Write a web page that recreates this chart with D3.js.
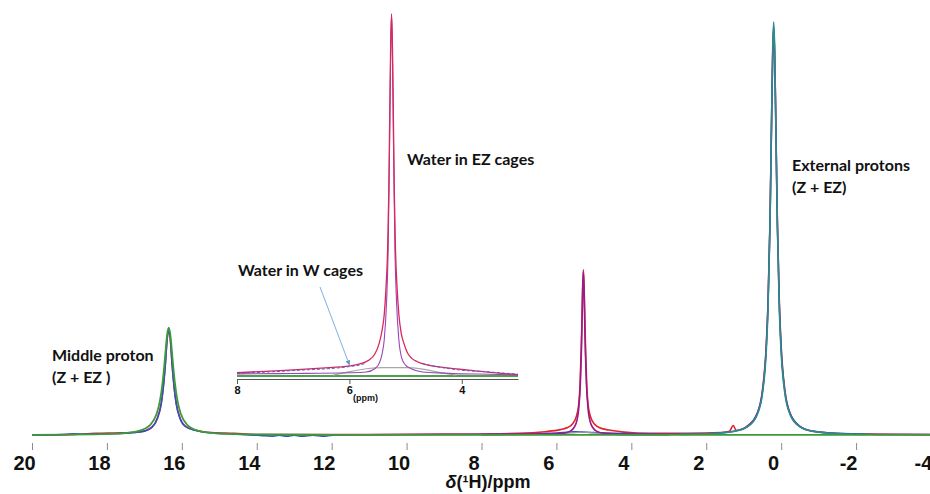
<!DOCTYPE html>
<html>
<head>
<meta charset="utf-8">
<script src="https://cdn.jsdelivr.net/npm/d3@7"></script>
<style>
  body { margin: 0; background: #fff; }
  svg { display: block; }
  .lbl { font-family: Lato, "Open Sans", sans-serif; font-weight: bold; font-size: 16px; fill: #111; }
</style>
</head>
<body>
<svg id="nmr"></svg>
<script>
// main spectrum, [ppm, intensity] with the external-proton peak = 100
const redSpec = [[20,0],[19,0.1],[18.3,0.4],[17.8,0.5],[17.3,0.6],[17,1],[16.8,1.9],[16.65,4.2],[16.55,7.8],[16.5,11.2],[16.44,17.2],[16.39,23.4],[16.35,25.4],[16.31,23.4],[16.26,17.2],[16.2,11.2],[16.15,7.8],[16.05,4.2],[15.9,2.1],[15.6,1.1],[15.2,0.6],[14.6,0.4],[14,0.1],[11,0.1],[9,0.2],[7,0.4],[6.3,0.8],[5.9,1.3],[5.7,1.8],[5.58,2.6],[5.48,4.2],[5.41,7],[5.37,12],[5.34,20],[5.32,27],[5.3,35.5],[5.28,40],[5.26,35.5],[5.24,27],[5.22,20],[5.19,12],[5.15,7],[5.08,4.2],[4.98,2.6],[4.86,1.8],[4.6,1.2],[4.2,0.7],[3.5,0.4],[2.5,0.4],[1.6,0.6],[1.38,0.9],[1.28,2.3],[1.2,1.1],[1.0,1.6],[0.9,2.2],[0.65,5],[0.5,10.8],[0.4,21.5],[0.35,32.5],[0.3,51],[0.275,65],[0.25,79.5],[0.225,92],[0.2,98.5],[0.175,92],[0.15,79.5],[0.125,65],[0.1,51],[0.05,32.5],[0,21.5],[-0.1,10.8],[-0.25,5],[-0.5,2.1],[-0.8,1.0],[-1.3,0.5],[-2.3,0.2],[-4,0.1]];
const blueSpec = [[20,0],[19.2,0.1],[18.9,0.3],[18.6,0.2],[18,0.3],[17.4,0.5],[17,0.9],[16.8,1.8],[16.65,4],[16.55,7.5],[16.5,11],[16.44,17],[16.39,23.5],[16.35,25.6],[16.31,23.5],[16.26,17],[16.2,11],[16.15,7.5],[16.05,4],[15.9,2],[15.6,1],[15.2,0.5],[14.5,0.2],[13.9,-0.1],[13.6,-0.3],[13.4,-0.05],[13.2,-0.3],[13,-0.05],[12.8,-0.3],[12.5,-0.05],[12.2,-0.3],[11.9,0],[9,0.1],[7,0.2],[6,0.5],[5.5,0.8],[5.0,0.6],[3,0.2],[2,0.3],[1.2,1.0],[0.9,2.1],[0.65,5],[0.5,10.5],[0.4,21],[0.35,32],[0.3,51],[0.275,65],[0.25,80],[0.225,93],[0.2,99],[0.175,93],[0.15,80],[0.125,65],[0.1,51],[0.05,32],[0,21],[-0.1,10.5],[-0.25,5],[-0.5,2.1],[-0.8,1.0],[-1.3,0.5],[-2.3,0.2],[-3,0.1],[-4,0.1]];
const purpleSpec = [[8,0.1],[6.5,0.2],[5.88,0.33],[5.63,0.95],[5.48,2.7],[5.4,6.8],[5.36,12.7],[5.335,19.75],[5.32,25.8],[5.3,34.9],[5.28,39.5],[5.26,34.9],[5.24,25.8],[5.225,19.75],[5.2,12.7],[5.16,6.8],[5.08,2.7],[4.93,0.95],[4.68,0.33],[4,0.1],[3,0.05]];
const tealSpec = [[2.7,0.16],[1.7,0.44],[1.2,1.0],[0.9,2],[0.65,4.7],[0.5,10],[0.4,20],[0.35,30.8],[0.3,50],[0.275,64],[0.25,80],[0.225,94],[0.2,100],[0.175,94],[0.15,80],[0.125,64],[0.1,50],[0.05,30.8],[0,20],[-0.1,10],[-0.25,4.7],[-0.5,2],[-0.8,1.0],[-1.3,0.44],[-2.3,0.16]];
const graySpec = [[6,0],[5.6,0.5],[5.3,0.7],[5,0.5],[4.6,0]];
const greenSpec = [[20,0.05],[18.35,0.17],[17.55,0.46],[17.15,1.0],[16.85,2.4],[16.67,5.2],[16.59,8],[16.51,13],[16.47,16.6],[16.43,20.8],[16.39,24.5],[16.35,26],[16.31,24.5],[16.27,20.8],[16.23,16.6],[16.19,13],[16.11,8],[16.03,5.2],[15.85,2.4],[15.55,1.0],[15.15,0.46],[14.35,0.17],[12,0.05],[-4,0.05]];
const mainTicks = [20, 18, 16, 14, 12, 10, 8, 6, 4, 2, 0, -2, -4];

// inset: zoom on the water region, peak = 100
const insetRed = [[8.0,0.9],[7.5,1.3],[7.0,1.7],[6.5,2.2],[6.0,2.8],[5.8,3.4],[5.65,4.4],[5.55,6],[5.47,9],[5.42,12.5],[5.38,17],[5.35,24],[5.32,35],[5.3,50],[5.28,75],[5.265,92],[5.25,100],[5.235,92],[5.22,75],[5.2,50],[5.18,35],[5.15,24],[5.12,17],[5.08,12],[5.03,9],[4.97,6.5],[4.9,5],[4.8,4],[4.6,3],[4.3,2.3],[4.0,1.8],[3.5,1.0],[3.0,0.4]];
const insetPurple = [[8.0,0.6],[7.0,0.7],[6.0,0.9],[5.7,1.1],[5.55,2],[5.47,3.5],[5.42,6],[5.38,10],[5.34,20],[5.31,35],[5.28,70],[5.265,90],[5.25,100],[5.235,90],[5.22,70],[5.19,35],[5.16,20],[5.12,10],[5.07,5],[5.0,3],[4.9,2],[4.7,1.1],[4.3,0.8],[4.0,0.6],[3.5,0.5],[3.0,0.3]];
const insetBlue = [[8.0,0.7],[7.0,1.5],[6.0,2.6],[5.8,3.1],[5.7,3.6]];
const insetBlue2 = [[4.7,3.4],[4.3,2.2],[4.0,1.6],[3.5,1.1],[3.0,0.5]];
const insetGray = [[6.3,0.2],[6.0,1.2],[5.7,2.0],[5.4,2.3],[5.0,2.3],[4.7,1.9],[4.4,1.0],[4.1,0.2]];
const insetGreen = [[8,0],[3,0]];
const insetTicks = [8, 6, 4];

const width = 930, height = 494;

const svg = d3.select('#nmr')
  .attr('width', width)
  .attr('height', height)
  .attr('viewBox', [0, 0, width, height]);

svg.append('rect').attr('width', width).attr('height', height).attr('fill', '#fff');

const x = d3.scaleLinear().domain([20, -4]).range([32, 931]);
const y = d3.scaleLinear().domain([0, 100]).range([435, 22]);

const line = d3.line()
  .x(d => x(d[0]))
  .y(d => y(d[1]))
  .curve(d3.curveMonotoneX);

// reversed domain -> sort by ppm descending so x increases
const draw = (g, data, gen, color, w, dash) => {
  g.append('path')
    .datum(data.slice().sort((a, b) => b[0] - a[0]))
    .attr('d', gen)
    .attr('fill', 'none')
    .attr('stroke', color)
    .attr('stroke-width', w)
    .attr('stroke-dasharray', dash || null)
    .attr('stroke-linejoin', 'round');
};

const plot = svg.append('g');
draw(plot, redSpec, line, '#e0232f', 1.6);
draw(plot, blueSpec, line, '#2f4fc4', 1.5);
draw(plot, graySpec, line, '#9a9a9a', 1.2);
draw(plot, purpleSpec, line, '#981c86', 1.6);
draw(plot, tealSpec, line, '#2e8b8c', 1.6);
draw(plot, greenSpec, line, '#3b9b3b', 1.8);

const xAxis = svg.append('g')
  .attr('transform', 'translate(0,443)')
  .call(d3.axisBottom(x).tickValues(mainTicks).tickSize(7).tickPadding(6).tickFormat(d => String(d)));
xAxis.select('.domain').remove();
xAxis.selectAll('.tick line').attr('stroke', '#8a8a8a');
xAxis.selectAll('.tick text')
  .attr('dx', -8)
  .attr('fill', '#111')
  .style('font-family', '"Liberation Sans", Arial, sans-serif')
  .style('font-weight', 'bold')
  .style('font-size', '20px');

const title = svg.append('text')
  .attr('x', 488).attr('y', 488)
  .attr('text-anchor', 'middle')
  .attr('fill', '#111')
  .style('font-family', '"Liberation Sans", Arial, sans-serif')
  .style('font-weight', 'bold')
  .style('font-size', '18px');
title.append('tspan').style('font-style', 'italic').text('δ');
title.append('tspan').text('(¹H)/ppm');

// inset
const xi = d3.scaleLinear().domain([8, 3]).range([237, 518]);
const yi = d3.scaleLinear().domain([0, 100]).range([376, 14]);
const lineI = d3.line()
  .x(d => xi(d[0]))
  .y(d => yi(d[1]))
  .curve(d3.curveMonotoneX);

const inset = svg.append('g');
draw(inset, insetGreen, lineI, '#4aa34a', 2);
draw(inset, insetGray, lineI, '#a8a8a8', 1.2);
draw(inset, insetPurple, lineI, '#9a45b8', 1.1);
draw(inset, insetRed, lineI, '#d8285a', 1.3);
draw(inset, insetBlue, lineI, '#5a5ad0', 1, '3,2');
draw(inset, insetBlue2, lineI, '#5a5ad0', 1, '3,2');

const iAxis = svg.append('g')
  .attr('transform', 'translate(0,379)')
  .call(d3.axisBottom(xi).tickValues(insetTicks).tickSize(5).tickSizeOuter(0).tickPadding(2).tickFormat(d => String(d)));
iAxis.select('.domain').attr('stroke', '#555');
iAxis.selectAll('.tick line').attr('stroke', '#555');
iAxis.selectAll('.tick text')
  .attr('fill', '#111')
  .style('font-family', '"Liberation Sans", Arial, sans-serif')
  .style('font-weight', 'bold')
  .style('font-size', '11px');

svg.append('text')
  .attr('x', 353).attr('y', 401)
  .attr('fill', '#111')
  .style('font-family', '"Liberation Sans", Arial, sans-serif')
  .style('font-weight', 'bold')
  .style('font-size', '9px')
  .text('(ppm)');

// annotations
svg.append('defs').append('marker')
  .attr('id', 'arr')
  .attr('viewBox', '0 0 10 10')
  .attr('refX', 9).attr('refY', 5)
  .attr('markerWidth', 5).attr('markerHeight', 5)
  .attr('orient', 'auto')
  .append('path').attr('d', 'M0,0L10,5L0,10z').attr('fill', '#5b9bd5');

svg.append('line')
  .attr('x1', 320).attr('y1', 287)
  .attr('x2', xi(6.0)).attr('y2', yi(2.8) - 1)
  .attr('stroke', '#7fb0e0')
  .attr('stroke-width', 1)
  .attr('marker-end', 'url(#arr)');

const label = (tx, ty, lines) => {
  const t = svg.append('text').attr('class', 'lbl').attr('x', tx).attr('y', ty);
  lines.forEach((s, i) => t.append('tspan').attr('x', tx).attr('dy', i ? 22 : 0).text(s));
};
label(407, 165, ['Water in EZ cages']);
label(238, 276, ['Water in W cages']);
label(792, 171, ['External protons', '(Z + EZ)']);
label(52, 361, ['Middle proton', '(Z + EZ )']);
</script>
</body>
</html>
